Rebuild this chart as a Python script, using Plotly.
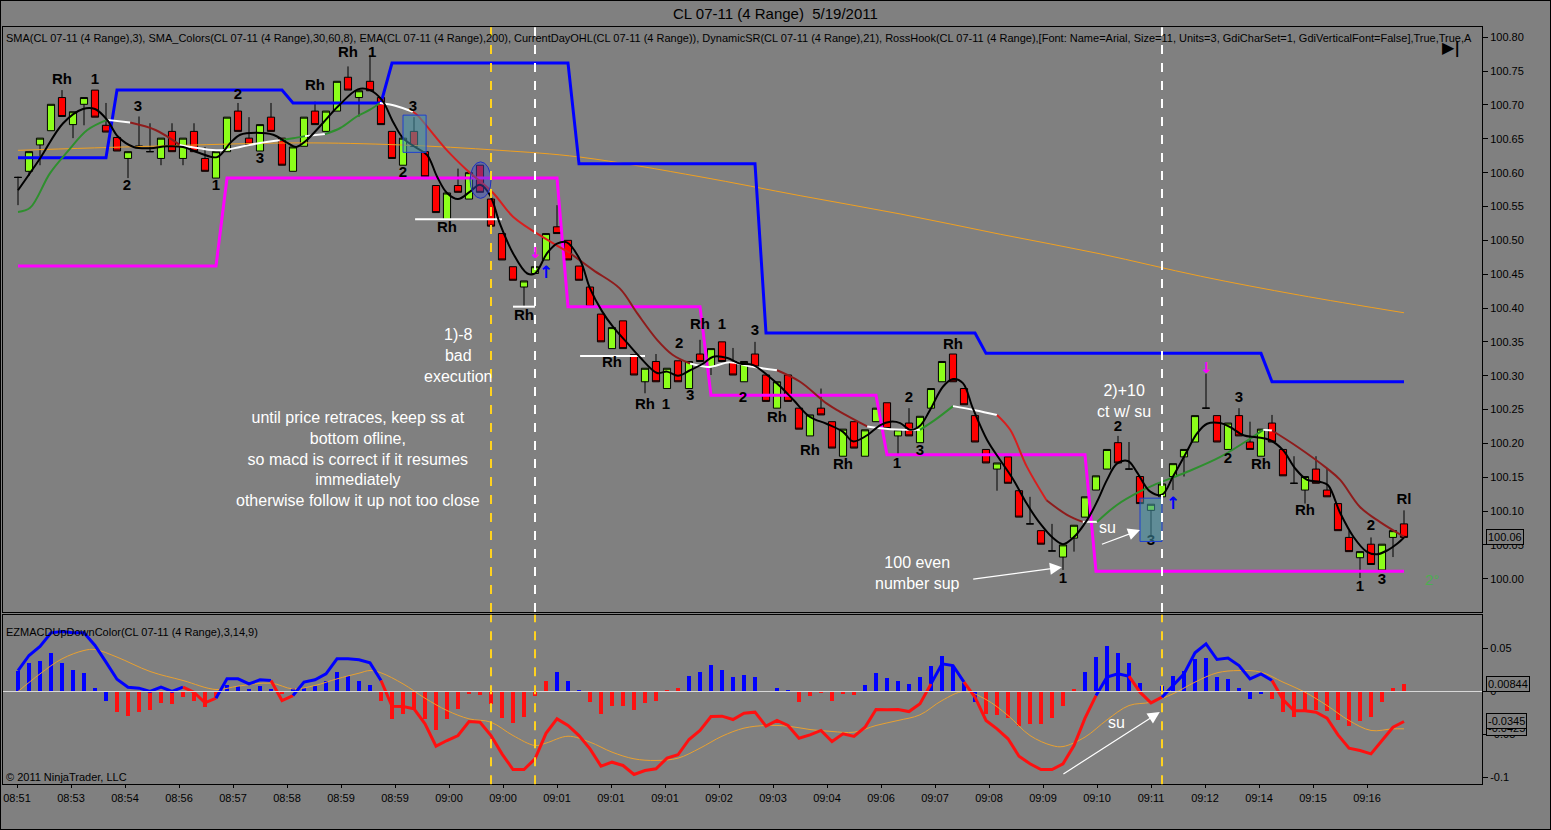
import plotly.graph_objects as go

# ---- CL 07-11, 4 range bars, 19 May 2011 (bar index = position on the x axis) ----
opens = [100.593, 100.602, 100.641, 100.662, 100.711, 100.671, 100.701, 100.722, 100.670, 100.652,
         100.621, 100.639, 100.631, 100.621, 100.661, 100.621, 100.661, 100.621, 100.592, 100.631,
         100.691, 100.651, 100.632, 100.682, 100.651, 100.602, 100.639, 100.691, 100.661, 100.691,
         100.741, 100.711, 100.735, 100.711, 100.661, 100.611, 100.661, 100.631, 100.581, 100.531,
         100.581, 100.561, 100.611, 100.561, 100.510, 100.461, 100.431, 100.451, 100.471, 100.520,
         100.500, 100.462, 100.431, 100.391, 100.340, 100.381, 100.331, 100.291, 100.321, 100.281,
         100.322, 100.281, 100.332, 100.313, 100.350, 100.321, 100.291, 100.332, 100.301, 100.252,
         100.301, 100.252, 100.211, 100.252, 100.232, 100.181, 100.232, 100.181, 100.232, 100.260,
         100.211, 100.230, 100.201, 100.252, 100.291, 100.332, 100.281, 100.241, 100.191, 100.162,
         100.180, 100.130, 100.081, 100.071, 100.041, 100.032, 100.060, 100.091, 100.131, 100.162,
         100.201, 100.162, 100.151, 100.101, 100.121, 100.151, 100.180, 100.202, 100.252, 100.241,
         100.191, 100.241, 100.202, 100.181, 100.230, 100.191, 100.141, 100.131, 100.162, 100.131,
         100.111, 100.061, 100.031, 100.051, 100.013, 100.061, 100.081]
highs = [100.594, 100.631, 100.651, 100.701, 100.722, 100.690, 100.711, 100.722, 100.703, 100.652,
         100.631, 100.683, 100.673, 100.651, 100.673, 100.651, 100.673, 100.638, 100.631, 100.682,
         100.703, 100.682, 100.671, 100.703, 100.651, 100.638, 100.682, 100.705, 100.691, 100.735,
         100.757, 100.721, 100.774, 100.711, 100.661, 100.651, 100.682, 100.631, 100.581, 100.570,
         100.606, 100.600, 100.611, 100.561, 100.510, 100.461, 100.440, 100.461, 100.510, 100.552,
         100.500, 100.462, 100.431, 100.391, 100.371, 100.381, 100.331, 100.311, 100.332, 100.311,
         100.322, 100.321, 100.353, 100.340, 100.350, 100.341, 100.321, 100.350, 100.301, 100.291,
         100.301, 100.252, 100.242, 100.281, 100.232, 100.221, 100.232, 100.220, 100.252, 100.260,
         100.220, 100.252, 100.240, 100.281, 100.321, 100.332, 100.281, 100.241, 100.191, 100.171,
         100.180, 100.130, 100.121, 100.071, 100.081, 100.050, 100.079, 100.121, 100.152, 100.191,
         100.211, 100.202, 100.151, 100.110, 100.140, 100.170, 100.191, 100.241, 100.303, 100.241,
         100.230, 100.252, 100.232, 100.221, 100.242, 100.191, 100.181, 100.151, 100.181, 100.162,
         100.111, 100.071, 100.040, 100.061, 100.051, 100.071, 100.101]
lows = [100.552, 100.595, 100.611, 100.662, 100.683, 100.651, 100.670, 100.682, 100.660, 100.632,
        100.592, 100.639, 100.631, 100.611, 100.631, 100.611, 100.631, 100.602, 100.592, 100.631,
        100.661, 100.642, 100.632, 100.661, 100.611, 100.602, 100.639, 100.671, 100.661, 100.691,
        100.722, 100.683, 100.721, 100.671, 100.621, 100.611, 100.639, 100.594, 100.541, 100.531,
        100.571, 100.561, 100.571, 100.521, 100.471, 100.441, 100.402, 100.451, 100.471, 100.510,
        100.471, 100.441, 100.402, 100.350, 100.340, 100.340, 100.301, 100.274, 100.291, 100.281,
        100.291, 100.281, 100.321, 100.301, 100.321, 100.301, 100.291, 100.313, 100.262, 100.252,
        100.262, 100.221, 100.211, 100.242, 100.193, 100.181, 100.193, 100.181, 100.232, 100.222,
        100.183, 100.211, 100.201, 100.252, 100.291, 100.291, 100.257, 100.202, 100.171, 100.130,
        100.141, 100.091, 100.081, 100.051, 100.041, 100.013, 100.040, 100.091, 100.131, 100.162,
        100.171, 100.162, 100.111, 100.062, 100.121, 100.131, 100.151, 100.202, 100.252, 100.202,
        100.191, 100.211, 100.191, 100.181, 100.202, 100.152, 100.141, 100.111, 100.141, 100.121,
        100.071, 100.040, 100.001, 100.021, 100.013, 100.032, 100.061]
closes = [100.593, 100.631, 100.651, 100.701, 100.683, 100.690, 100.711, 100.682, 100.660, 100.632,
          100.631, 100.639, 100.631, 100.651, 100.631, 100.651, 100.631, 100.602, 100.631, 100.682,
          100.661, 100.642, 100.671, 100.661, 100.611, 100.638, 100.682, 100.671, 100.691, 100.735,
          100.722, 100.721, 100.721, 100.671, 100.621, 100.651, 100.639, 100.594, 100.541, 100.570,
          100.571, 100.600, 100.571, 100.521, 100.471, 100.441, 100.440, 100.461, 100.510, 100.510,
          100.471, 100.441, 100.402, 100.350, 100.371, 100.340, 100.301, 100.311, 100.291, 100.311,
          100.291, 100.321, 100.321, 100.340, 100.321, 100.301, 100.321, 100.313, 100.262, 100.291,
          100.262, 100.221, 100.242, 100.242, 100.193, 100.221, 100.193, 100.220, 100.252, 100.222,
          100.220, 100.211, 100.240, 100.281, 100.321, 100.291, 100.257, 100.202, 100.171, 100.171,
          100.141, 100.091, 100.081, 100.051, 100.041, 100.050, 100.079, 100.121, 100.152, 100.191,
          100.171, 100.162, 100.111, 100.110, 100.140, 100.170, 100.191, 100.241, 100.252, 100.202,
          100.230, 100.211, 100.191, 100.221, 100.202, 100.152, 100.141, 100.151, 100.141, 100.121,
          100.071, 100.040, 100.040, 100.021, 100.051, 100.071, 100.061]

time_labels = ["08:51", "08:53", "08:54", "08:56", "08:57", "08:58", "08:59", "08:59", "09:00",
               "09:00", "09:01", "09:01", "09:01", "09:02", "09:03", "09:04", "09:06", "09:07",
               "09:08", "09:09", "09:10", "09:11", "09:12", "09:14", "09:15", "09:16"]
price_ticks = [100.00, 100.05, 100.10, 100.15, 100.20, 100.25, 100.30, 100.35, 100.40,
               100.45, 100.50, 100.55, 100.60, 100.65, 100.70, 100.75, 100.80]

# SMA(3) - black line (bar, price)
sma3_pts = [(0, 100.574), (2, 100.621), (4.1, 100.673), (5.9, 100.694), (7, 100.694), (8.1, 100.678),
            (9.1, 100.653), (10.5, 100.638), (12, 100.636), (13.5, 100.639), (15, 100.638),
            (16.5, 100.629), (18.1, 100.623), (19.3, 100.644), (20.2, 100.656), (21.7, 100.659),
            (23.2, 100.656), (24.5, 100.644), (25.3, 100.638), (26.1, 100.646), (27.7, 100.673),
            (29.1, 100.698), (30.9, 100.723), (32, 100.722), (33.1, 100.707), (34.1, 100.675),
            (35, 100.651), (36.1, 100.638), (37.2, 100.626), (38.1, 100.594), (39, 100.570),
            (40, 100.561), (41.1, 100.572), (42, 100.582), (42.9, 100.567), (43.8, 100.525),
            (45, 100.481), (46.3, 100.451), (47, 100.451), (48.1, 100.481), (49, 100.495),
            (49.9, 100.497), (51.1, 100.471), (52, 100.429), (53.1, 100.395), (54.1, 100.372),
            (55.4, 100.348), (56.5, 100.328), (58.1, 100.304), (59, 100.306), (60, 100.300),
            (61.1, 100.308), (62.3, 100.318), (63.2, 100.328), (64.5, 100.326), (65.6, 100.318),
            (66.8, 100.316), (68.1, 100.301), (69.3, 100.284), (70.5, 100.264), (72, 100.239),
            (73.5, 100.229), (75, 100.217), (75.9, 100.203), (77.2, 100.212), (78.4, 100.227),
            (79.3, 100.232), (80.2, 100.230), (81.1, 100.220), (82, 100.226), (82.9, 100.249),
            (84.1, 100.284), (85, 100.295), (85.9, 100.289), (86.8, 100.252), (88.1, 100.205),
            (89.3, 100.175), (90.5, 100.146), (91.7, 100.111), (92.9, 100.082), (94.1, 100.060),
            (95, 100.051), (95.9, 100.060), (97.2, 100.087), (98.1, 100.114), (99, 100.146),
            (99.9, 100.170), (100.9, 100.174), (101.7, 100.158), (102.9, 100.129), (104, 100.124),
            (105, 100.151), (106.1, 100.183), (107.2, 100.215), (108.1, 100.229), (109.3, 100.230),
            (110.2, 100.224), (111.4, 100.212), (112.6, 100.209), (113.8, 100.205), (115, 100.190),
            (116.1, 100.163), (117.2, 100.146), (118.4, 100.143), (119.1, 100.138), (120.2, 100.097),
            (121.4, 100.062), (122.6, 100.040), (123.5, 100.036), (124.5, 100.042), (125.4, 100.052),
            (126, 100.061)]

# SMA_Colors(30,60,8) - (bar, price, colour of the piece ending here)
smac_pts = [(0, 100.542, "g"), (1.1, 100.548, "g"), (2.9, 100.599, "g"), (4.5, 100.631, "g"),
            (6.3, 100.663, "g"), (8.1, 100.678, "g"), (10.2, 100.674, "w"), (12.5, 100.663, "d"),
            (14.7, 100.641, "d"), (16.5, 100.636, "w"), (18.4, 100.633, "w"), (20.2, 100.638, "w"),
            (22, 100.644, "w"), (23.8, 100.648, "w"), (25, 100.651, "g"), (26.1, 100.654, "g"),
            (27.9, 100.657, "w"), (29.3, 100.666, "g"), (30.8, 100.683, "g"), (32, 100.693, "g"),
            (32.9, 100.703, "g"), (34.3, 100.699, "w"), (35.9, 100.690, "w"), (36.3, 100.685, "r"),
            (39, 100.633, "r"), (40.8, 100.604, "r"), (43.2, 100.570, "r"), (45, 100.535, "r"),
            (48.1, 100.501, "r"), (50.2, 100.481, "r"), (52.3, 100.456, "d"), (54.7, 100.429, "d"),
            (56.3, 100.392, "d"), (58.1, 100.353, "d"), (59.5, 100.331, "d"), (61.1, 100.318, "d"),
            (62.9, 100.313, "w"), (64.7, 100.320, "w"), (66.5, 100.314, "w"), (69, 100.308, "w"),
            (71.1, 100.291, "d"), (73.5, 100.259, "d"), (74.7, 100.247, "d"), (77.2, 100.225, "d"),
            (79.3, 100.221, "w"), (82, 100.220, "w"), (83.4, 100.235, "g"), (85, 100.255, "g"),
            (87, 100.249, "w"), (89, 100.242, "w"), (90.2, 100.220, "r"), (91.7, 100.166, "r"),
            (93.5, 100.116, "r"), (95.4, 100.094, "d"), (96.8, 100.084, "d"), (98.1, 100.084, "w"),
            (99.9, 100.109, "g"), (102, 100.129, "g"), (103.2, 100.138, "g"), (106.3, 100.158, "g"),
            (109.3, 100.180, "g"), (112.3, 100.210, "g"), (113.2, 100.220, "g"), (114, 100.219, "w"),
            (116.3, 100.195, "d"), (119, 100.163, "d"), (120.2, 100.146, "d"), (122, 100.106, "d"),
            (123.8, 100.084, "d"), (126, 100.062, "d")]

# EMA(200) - thin orange
ema_pts = [(0, 100.633), (12, 100.639), (25.6, 100.644), (34.7, 100.641), (43.8, 100.633),
           (51.1, 100.623), (62, 100.594), (71.1, 100.566), (80.2, 100.539), (89.3, 100.509),
           (98.4, 100.480), (107.5, 100.447), (116.5, 100.419), (126, 100.393)]

# DynamicSR - (first bar, last bar, level)
dsr_upper = [(0, 8, 100.622), (9, 24, 100.722), (25, 33, 100.703), (34, 50, 100.762),
             (51, 67, 100.613), (68, 87, 100.363), (88, 113, 100.333), (114, 126, 100.291)]
dsr_lower = [(0, 18, 100.462), (19, 49, 100.592), (50, 62, 100.402), (63, 78, 100.271),
             (79, 97, 100.183), (98, 126, 100.011)]

# white hook lines (first bar, last bar, price)
hook_lines = [(36.1, 44, 100.531), (45, 47, 100.402), (51.1, 57, 100.329)]

# RossHook labels
hook_text = ["Rh", "1", "Rh", "1", "Rh", "3", "3", "2", "2", "3", "1", "2", "Rh", "Rh", "Rh", "Rh",
             "1", "2", "3", "Rh", "1", "3", "2", "Rh", "Rh", "Rh", "1", "3", "2", "Rh", "2", "1",
             "3", "3", "2", "Rh", "Rh", "2", "1", "3", "Rl"]
hook_x = [4, 7, 30, 32.2, 27, 10.9, 35.9, 9.9, 20, 22, 18, 35, 39, 46, 54, 57,
          58.9, 60.1, 61.1, 62, 64, 67, 65.9, 69, 72, 75, 79.9, 82, 81, 85, 100, 95,
          103, 111, 110, 113, 117, 123, 122, 124, 126]
hook_y = [100.737, 100.737, 100.777, 100.777, 100.727, 100.697, 100.697, 100.580, 100.715, 100.620,
          100.580, 100.599, 100.518, 100.388, 100.319, 100.257, 100.257, 100.347, 100.270, 100.375,
          100.375, 100.366, 100.267, 100.237, 100.189, 100.168, 100.169, 100.189, 100.267, 100.345,
          100.224, 99.999, 100.056, 100.267, 100.177, 100.168, 100.099, 100.077, 99.988, 99.997,
          100.116]

# EZMACDUpDownColor(3,14,9)
macd_hist = [0.0244, 0.0333, 0.036, 0.045, 0.0333, 0.0252, 0.0213, 0.005, -0.0105, -0.024,
             -0.0287, -0.0229, -0.0213, -0.0132, -0.0143, -0.0066, -0.0105, -0.0182, -0.0066, 0.0078,
             0.0062, 0.003, 0.0062, 0.003, -0.003, 0.004, 0.005, 0.0062, 0.012, 0.0225,
             0.0186, 0.0128, 0.0078, -0.0105, -0.0318, -0.026, -0.0202, -0.0318, -0.0446, -0.0318,
             -0.0202, -0.0027, -0.0039, -0.0143, -0.031, -0.0364, -0.0298, -0.0047, 0.0125, 0.0225,
             0.0128, 0.001, -0.0116, -0.026, -0.017, -0.017, -0.0213, -0.0132, -0.0105, 0.002,
             0.005, 0.0186, 0.0233, 0.031, 0.0256, 0.0167, 0.0194, 0.0167, 0.0008, 0.005,
             0.001, -0.0124, -0.0047, -0.001, -0.0109, -0.002, -0.004, 0.0078, 0.0213, 0.0155,
             0.0128, 0.0089, 0.0167, 0.0295, 0.0419, 0.0302, 0.0101, -0.0124, -0.026, -0.0271,
             -0.031, -0.0395, -0.0376, -0.0376, -0.0302, -0.0163, 0.003, 0.0233, 0.04, 0.0527,
             0.045, 0.0333, 0.0101, 0.0008, 0.0062, 0.0178, 0.0244, 0.038, 0.0388, 0.0167,
             0.0147, 0.0039, -0.0078, -0.0027, -0.0078, -0.024, -0.0298, -0.0233, -0.0209, -0.0221,
             -0.0326, -0.0395, -0.0337, -0.0298, -0.0124, 0.0039, 0.0089]
hist_colours = ("bbbbbbbbb" "rrrrrrrrrr" "bbbbb" "r" "bbbbbbbb" "rrrrrrrrrrrrrrrr" "bbb"
                "rrrrrrrrr" "bbbbbbbbbb" "rrrrrr" "bbbbbbbbbbb" "rrrrrrrrr" "bbbbbbbbbbbbbbbbb"
                "rrrrrrrrrrrrr")
macd_line = [0.0244, 0.0419, 0.0523, 0.0682, 0.0698, 0.0682, 0.0682, 0.0535, 0.0341, 0.0143,
             0.005, 0.0039, 0.0, 0.005, 0.0, 0.005, -0.0008, -0.0132, -0.0078, 0.0147,
             0.0147, 0.0089, 0.0136, 0.0128, -0.0105, -0.0047, 0.0109, 0.0136, 0.0205, 0.038,
             0.038, 0.0368, 0.0333, 0.0128, -0.0171, -0.0174, -0.0202, -0.0376, -0.0636, -0.057,
             -0.0512, -0.0349, -0.0357, -0.0512, -0.0725, -0.0907, -0.0907, -0.0783, -0.0486, -0.0318,
             -0.0395, -0.0512, -0.0667, -0.0868, -0.0822, -0.086, -0.0965, -0.0919, -0.0899, -0.0775,
             -0.0736, -0.0558, -0.0453, -0.0291, -0.0287, -0.0326, -0.0252, -0.024, -0.0403, -0.0337,
             -0.0395, -0.0543, -0.0504, -0.0453, -0.0581, -0.0492, -0.0523, -0.0415, -0.0209, -0.0213,
             -0.0209, -0.0233, -0.0143, 0.0089, 0.0322, 0.0302, 0.0109, -0.0066, -0.0337, -0.0434,
             -0.055, -0.0752, -0.0841, -0.0907, -0.0907, -0.0841, -0.0628, -0.031, -0.0047, 0.0167,
             0.0205, 0.0178, -0.0008, -0.0132, -0.0066, 0.007, 0.0205, 0.045, 0.0554, 0.0372,
             0.0388, 0.0302, 0.0147, 0.0205, 0.0128, -0.0093, -0.0225, -0.0225, -0.024, -0.031,
             -0.0504, -0.0659, -0.0686, -0.0725, -0.057, -0.0415, -0.0349]
macd_colours = ("bbbbbbbbbbbbbbbb" "rrr" "bbbbb" "rr" "bbbbbbbb"
                "rrrrrrrrrrrrrrrrrrrrrrrrrrrrrrrrrrrrrrrrrrrrrrrrrr" "bbb" "rrrrrrrrrrrr"
                "bbb" "rrr" "bbbbbbbbbb" "rrrrrrrrrrrr")
signal_pts = [(0, 0.0), (2, 0.0205), (4, 0.038), (6, 0.0477), (7, 0.0488), (9, 0.040), (12, 0.0233),
              (15, 0.0128), (18, 0.0023), (20, 0.0062), (23, 0.0097), (25, 0.003), (27, 0.007),
              (29, 0.0147), (31, 0.0213), (32, 0.0244), (33, 0.0217), (35, 0.0089), (37, -0.0078),
              (39, -0.0221), (41, -0.0318), (43, -0.0357), (45, -0.0512), (47, -0.0628), (48, -0.060),
              (50, -0.052), (52, -0.0589), (54, -0.0705), (56, -0.0783), (58, -0.0802), (60, -0.0775),
              (62, -0.0659), (64, -0.052), (66, -0.0426), (68, -0.0395), (70, -0.0403), (72, -0.0442),
              (74, -0.0465), (76, -0.0473), (78, -0.0395), (80, -0.0337), (82, -0.0271), (84, -0.0105),
              (86, 0.0), (88, -0.0093), (90, -0.0279), (92, -0.0512), (94, -0.0628), (95, -0.064),
              (97, -0.053), (99, -0.033), (101, -0.0163), (103, -0.0124), (105, -0.0027), (107, 0.0109),
              (109, 0.0217), (111, 0.0244), (113, 0.0225), (115, 0.0109), (117, -0.0008), (119, -0.0163),
              (121, -0.0337), (123, -0.0453), (125, -0.0434), (126, -0.0434)]
macd_tags = [("0.00844", 0.00844), ("-0.0425", -0.0425), ("-0.0345", -0.0345)]
last_price_tag = ("100.06", 100.061)

# marked bars: vertical dashed lines (bar, colour in price panel)
marked_bars = [(43, "#ffd21f"), (47, "white"), (104, "white")]

# ---- geometry / styling ----
W, H = 1551, 830
X0, X1 = 3 / W, 1482 / W
PRICE_DOM = [1 - 612 / H, 1 - 27.3 / H]
MACD_DOM = [1 - 784.3 / H, 1 - 614.7 / H]
XRANGE = [-15 / 11, 1464 / 11]
FONT = "Liberation Sans, Arial, sans-serif"
BG = "#808080"
UP, DOWN = "#8cff1a", "#ff0000"
SMAC_COLOURS = {"g": "#2e8f2e", "w": "#ffffff", "d": "#8e1c1c", "r": "#d81e1e"}
MACD_COLOURS = {"b": "#0000ff", "r": "#ff1010"}

bars = list(range(len(closes)))


def runs(xs, ys, keys):
    # split a line into same-coloured pieces
    out = []
    for i in range(1, len(xs)):
        if out and out[-1][0] == keys[i]:
            out[-1][1].append(xs[i])
            out[-1][2].append(ys[i])
        else:
            out.append((keys[i], [xs[i - 1], xs[i]], [ys[i - 1], ys[i]]))
    return out


def steps_xy(steps):
    xs, ys = [], []
    for a, b, v in steps:
        xs += [a, b]
        ys += [v, v]
    return xs, ys


fig = go.Figure()

# ema 200
fig.add_trace(go.Scatter(x=[p[0] for p in ema_pts], y=[p[1] for p in ema_pts], mode="lines",
                         line=dict(color="#f0a020", width=1, shape="spline"), hoverinfo="skip"))
# dynamic support / resistance
for steps, colour in [(dsr_upper, "#0000ff"), (dsr_lower, "#ff00ff")]:
    sx, sy = steps_xy(steps)
    fig.add_trace(go.Scatter(x=sx, y=sy, mode="lines", line=dict(color=colour, width=3),
                             hoverinfo="skip"))

fig.add_trace(go.Candlestick(x=bars, open=opens, high=highs, low=lows, close=closes,
                             increasing=dict(fillcolor=UP, line=dict(color="black", width=1)),
                             decreasing=dict(fillcolor=DOWN, line=dict(color="black", width=1)),
                             whiskerwidth=0, hoverinfo="skip"))

for a, b, v in hook_lines:
    fig.add_trace(go.Scatter(x=[a, b], y=[v, v], mode="lines", line=dict(color="white", width=2),
                             hoverinfo="skip"))

# sma_colors line
sx = [p[0] for p in smac_pts]
sy = [p[1] for p in smac_pts]
for key, rx, ry in runs(sx, sy, [p[2] for p in smac_pts]):
    fig.add_trace(go.Scatter(x=rx, y=ry, mode="lines", hoverinfo="skip",
                             line=dict(color=SMAC_COLOURS[key], width=2, shape="spline")))

fig.add_trace(go.Scatter(x=[p[0] for p in sma3_pts], y=[p[1] for p in sma3_pts], mode="lines",
                         line=dict(color="black", width=2, shape="spline"), hoverinfo="skip"))

fig.add_trace(go.Scatter(x=hook_x, y=hook_y, mode="text", text=hook_text, hoverinfo="skip",
                         textfont=dict(family=FONT, size=15, color="black", weight="bold")))

# ---- macd panel ----
fig.add_trace(go.Bar(x=bars, y=macd_hist, width=0.3, xaxis="x2", yaxis="y2", hoverinfo="skip",
                     marker=dict(color=[MACD_COLOURS[c] for c in hist_colours], line=dict(width=0))))
fig.add_trace(go.Scatter(x=[p[0] for p in signal_pts], y=[p[1] for p in signal_pts], mode="lines",
                         xaxis="x2", yaxis="y2", hoverinfo="skip",
                         line=dict(color="#e8a030", width=1, shape="spline")))
for key, rx, ry in runs(bars, macd_line, macd_colours):
    fig.add_trace(go.Scatter(x=rx, y=ry, mode="lines", xaxis="x2", yaxis="y2", hoverinfo="skip",
                             line=dict(color=MACD_COLOURS[key], width=3)))

shapes = [
    dict(type="line", xref="x2 domain", yref="y2", x0=0, x1=1, y0=0, y1=0,
         line=dict(color="#d8d8d8", width=1)),
    dict(type="rect", xref="x", yref="y", x0=35, x1=37.1, y0=100.630, y1=100.685,
         line=dict(color="#1f3fd0", width=1), fillcolor="rgba(70,150,170,0.55)"),
    dict(type="rect", xref="x", yref="y", x0=102, x1=104, y0=100.055, y1=100.119,
         line=dict(color="#1f3fd0", width=1), fillcolor="rgba(70,150,170,0.55)"),
    dict(type="circle", xref="x", yref="y", x0=41.1, x1=43, y0=100.562, y1=100.616,
         line=dict(color="#2030c0", width=1), fillcolor="rgba(60,80,200,0.45)"),
    dict(type="rect", xref="paper", yref="paper", x0=0, x1=1, y0=0, y1=1,
         line=dict(color="black", width=2)),
]
for b, colour in marked_bars:
    shapes.append(dict(type="line", xref="x", yref="y domain", x0=b, x1=b, y0=0, y1=1,
                       line=dict(color=colour, width=2, dash="dash")))
    shapes.append(dict(type="line", xref="x2", yref="y2 domain", x0=b, x1=b, y0=0, y1=1,
                       line=dict(color="#ffd21f", width=2, dash="dash")))

white = dict(family=FONT, size=16, color="white")


def note(**kw):
    kw.setdefault("showarrow", False)
    kw.setdefault("yanchor", "middle")
    return kw


annotations = [
    note(xref="paper", yref="paper", x=0.5, y=1 - 13 / H, text="CL 07-11 (4 Range) \u00a05/19/2011",
         font=dict(family=FONT, size=15, color="black")),
    note(xref="paper", yref="paper", x=X0 + 1 / W, y=1 - 38 / H, xanchor="left",
         font=dict(family=FONT, size=11, color="black"),
         text="SMA(CL 07-11 (4 Range),3), SMA_Colors(CL 07-11 (4 Range),30,60,8), EMA(CL 07-11 (4 Range),200), "
              "CurrentDayOHL(CL 07-11 (4 Range)), DynamicSR(CL 07-11 (4 Range),21), RossHook(CL 07-11 (4 Range),"
              "[Font: Name=Arial, Size=11, Units=3, GdiCharSet=1, GdiVerticalFont=False],True,True,A"),
    note(xref="paper", yref="paper", x=1462 / W, y=1 - 48 / H,
         text="<b>\u25b6|</b>", font=dict(family="DejaVu Sans", size=16, color="black")),
    note(xref="paper", yref="paper", x=X0 + 1 / W, y=1 - 632 / H, xanchor="left",
         text="EZMACDUpDownColor(CL 07-11 (4 Range),3,14,9)", font=dict(family=FONT, size=11, color="black")),
    note(xref="paper", yref="paper", x=X0 + 1 / W, y=1 - 777 / H, xanchor="left",
         text="\u00a9 2011 NinjaTrader, LLC", font=dict(family=FONT, size=11, color="black")),
    note(x=40, y=100.330, text="1)-8<br>bad<br>execution", font=white),
    note(x=30.9, y=100.177, font=white,
         text="until price retraces, keep ss at<br>bottom ofline,<br>so macd is correct if it resumes<br>"
              "immediately<br>otherwise follow it up not too close"),
    note(x=100.5, y=100.263, text="2)+10<br>ct w/ su", font=white),
    note(x=81.8, y=100.008, text="100 even<br>number sup", font=white),
    note(x=99, y=100.076, text="su", font=white),
    note(x=99.9, y=-0.0355, xref="x2", yref="y2", text="su", font=white),
    dict(x=94.9, y=100.017, ax=86.7, ay=99.999, axref="x", ayref="y", text="", showarrow=True,
         arrowhead=2, arrowsize=2, arrowwidth=1.2, arrowcolor="white"),
    dict(x=102, y=100.072, ax=98.4, ay=100.050, axref="x", ayref="y", text="", showarrow=True,
         arrowhead=2, arrowsize=2, arrowwidth=1.2, arrowcolor="white"),
    dict(x=103.8, y=-0.0238, ax=94.9, ay=-0.097, xref="x2", yref="y2", axref="x2", ayref="y2",
         text="", showarrow=True, arrowhead=2, arrowsize=2, arrowwidth=1.2, arrowcolor="white"),
    note(x=48, y=100.453, text="<b>\u2191</b>", font=dict(family="DejaVu Sans", size=17, color="#0000ff")),
    note(x=105, y=100.112, text="<b>\u2191</b>", font=dict(family="DejaVu Sans", size=17, color="#0000ff")),
    note(x=47, y=100.481, text="<b>\u2193</b>", font=dict(family="DejaVu Sans", size=15, color="#ff00ff")),
    note(x=108, y=100.311, text="<b>\u2193</b>", font=dict(family="DejaVu Sans", size=15, color="#ff00ff")),
    note(x=128.5, y=99.999, text="2\u00b0", font=dict(family=FONT, size=15, color="#4caf50")),
    note(xref="paper", x=X1, y=last_price_tag[1], xanchor="left", xshift=4, text=last_price_tag[0],
         bgcolor=BG, bordercolor="black", borderwidth=1, borderpad=1,
         font=dict(family=FONT, size=11, color="black")),
]
for txt, v in macd_tags:
    annotations.append(note(xref="paper", yref="y2", x=X1, y=v, xanchor="left", xshift=4, text=txt,
                            bgcolor=BG, bordercolor="black", borderwidth=1, borderpad=1,
                            font=dict(family=FONT, size=11, color="black")))

axis_common = dict(showgrid=False, zeroline=False, showline=True, mirror=True, linecolor="black",
                   linewidth=1, tickfont=dict(family=FONT, size=11, color="black"),
                   tickcolor="black", fixedrange=True)
tick_pos = [(54 * k - 1) / 11 for k in range(len(time_labels))]

fig.update_layout(
    width=W, height=H, margin=dict(l=0, r=0, t=0, b=0),
    paper_bgcolor=BG, plot_bgcolor=BG, showlegend=False, hovermode=False,
    bargap=0, boxgap=0.35, boxgroupgap=0, shapes=shapes, annotations=annotations,
    xaxis=dict(domain=[X0, X1], range=XRANGE, anchor="y", showticklabels=False, ticks="",
               rangeslider=dict(visible=False), **axis_common),
    yaxis=dict(domain=PRICE_DOM, range=[99.9508, 100.8148], anchor="x", side="right",
               tickvals=price_ticks, tickformat=".2f", ticks="outside", ticklen=5, **axis_common),
    xaxis2=dict(domain=[X0, X1], range=XRANGE, anchor="y2", tickvals=tick_pos, ticktext=time_labels,
                ticks="outside", ticklen=3, **axis_common),
    yaxis2=dict(domain=MACD_DOM, range=[-0.1079, 0.0893], anchor="x2", side="right",
                tickvals=[-0.1, -0.05, 0, 0.05], ticktext=["-0.1", "-0.05", "0", "0.05"],
                ticks="outside", ticklen=5, **axis_common),
)

# the page's default body margin would push the fixed-size figure off by 8px
fig.write_html("out.html", config={"displayModeBar": False},
               post_script="document.body.style.margin = '0px';")
